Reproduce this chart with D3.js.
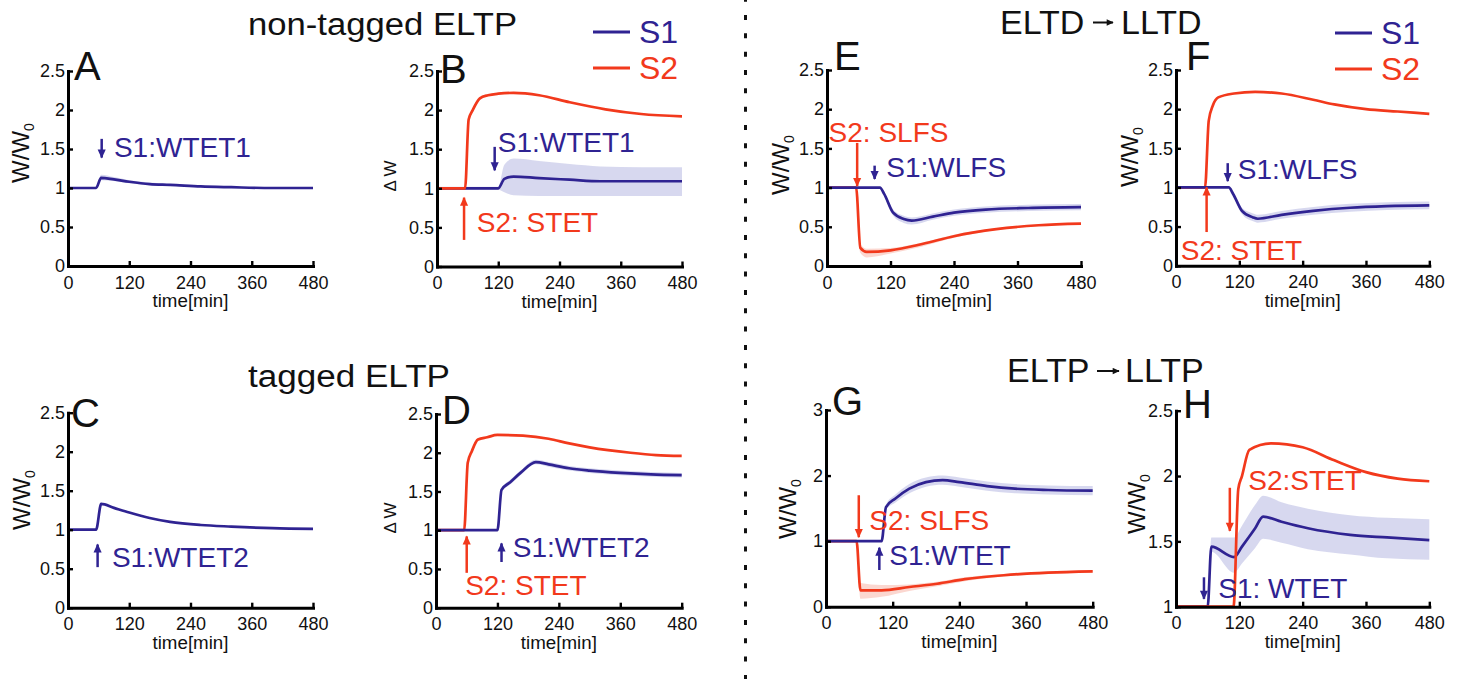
<!DOCTYPE html>
<html>
<head>
<meta charset="utf-8">
<script src="https://cdn.jsdelivr.net/npm/d3@7"></script>
<style>
body { margin: 0; background: #fff; }
svg text { font-family: "Liberation Sans", Arial, Helvetica, sans-serif; }
</style>
</head>
<body>
<div id="chart"></div>
<script>
// tick labels
const xTicks = [0, 120, 240, 360, 480];
const yTicks = [0, 0.5, 1, 1.5, 2, 2.5];
const yTicksG = [0, 1, 2, 3];
const yTicksH = [1, 1.5, 2, 2.5];

// A: non-tagged ELTP, S1 only
const tA = [0, 55, 65, 90, 120, 160, 200, 260, 320, 400, 480];
const vA_s1 = [1, 1, 1.13, 1.11, 1.08, 1.05, 1.04, 1.02, 1.01, 1.0, 1.0];
const loA_s1 = [1, 1, 1.1, 1.09, 1.06, 1.04, 1.03, 1.01, 1.0, 0.99, 0.99];
const hiA_s1 = [1, 1, 1.17, 1.14, 1.1, 1.07, 1.05, 1.03, 1.02, 1.01, 1.01];

// B: non-tagged ELTP, S1 + S2
const tB_s1 = [0, 120, 132, 150, 200, 260, 320, 400, 480];
const vB_s1 = [1, 1, 1.12, 1.15, 1.13, 1.11, 1.09, 1.09, 1.09];
const loB_s1 = [0.98, 0.98, 0.95, 0.91, 0.9, 0.9, 0.9, 0.9, 0.9];
const hiB_s1 = [1.02, 1.02, 1.3, 1.38, 1.35, 1.31, 1.28, 1.27, 1.27];
const tB_s2 = [0, 55, 62, 70, 84, 100, 120, 150, 200, 260, 330, 400, 480];
const vB_s2 = [1, 1, 1.88, 2.0, 2.15, 2.19, 2.21, 2.22, 2.19, 2.1, 2.01, 1.95, 1.92];

// C: tagged ELTP, S1 only
const tC = [0, 55, 65, 90, 120, 160, 200, 260, 320, 400, 480];
const vC_s1 = [1, 1, 1.33, 1.28, 1.22, 1.15, 1.1, 1.06, 1.04, 1.02, 1.01];

// D: tagged ELTP, S1 + S2
const tD_s1 = [0, 120, 128, 145, 165, 195, 220, 260, 300, 360, 420, 480];
const vD_s1 = [1, 1, 1.52, 1.62, 1.74, 1.88, 1.85, 1.8, 1.77, 1.74, 1.72, 1.71];
const loD_s1 = [1, 1, 1.5, 1.59, 1.71, 1.85, 1.82, 1.77, 1.74, 1.71, 1.69, 1.68];
const hiD_s1 = [1, 1, 1.54, 1.65, 1.77, 1.91, 1.88, 1.83, 1.8, 1.77, 1.75, 1.74];
const tD_s2 = [0, 55, 62, 70, 82, 100, 120, 170, 220, 260, 300, 380, 430, 480];
const vD_s2 = [1, 1, 1.87, 2.02, 2.17, 2.2, 2.23, 2.22, 2.18, 2.12, 2.07, 2.0, 1.97, 1.96];

// E: ELTD -> LLTD
const tE_s1 = [0, 100, 108, 125, 145, 160, 200, 240, 300, 380, 480];
const vE_s1 = [1, 1, 0.92, 0.68, 0.6, 0.58, 0.63, 0.68, 0.72, 0.74, 0.75];
const loE_s1 = [1, 1, 0.9, 0.64, 0.55, 0.53, 0.59, 0.64, 0.68, 0.7, 0.71];
const hiE_s1 = [1, 1, 0.94, 0.72, 0.64, 0.62, 0.67, 0.72, 0.76, 0.78, 0.79];
const tE_s2 = [0, 55, 63, 75, 120, 180, 240, 320, 400, 480];
const vE_s2 = [1, 1, 0.23, 0.18, 0.2, 0.28, 0.38, 0.47, 0.52, 0.54];
const loE_s2 = [1, 1, 0.17, 0.11, 0.16, 0.25, 0.36, 0.46, 0.51, 0.53];
const hiE_s2 = [1, 1, 0.28, 0.22, 0.23, 0.3, 0.4, 0.48, 0.53, 0.55];

// F: ELTD -> LLTD with STET on S2
const tF_s1 = [0, 100, 108, 125, 145, 155, 200, 260, 330, 400, 480];
const vF_s1 = [1, 1, 0.92, 0.7, 0.62, 0.6, 0.65, 0.7, 0.74, 0.76, 0.77];
const loF_s1 = [1, 1, 0.9, 0.66, 0.57, 0.55, 0.6, 0.65, 0.69, 0.71, 0.72];
const hiF_s1 = [1, 1, 0.94, 0.74, 0.67, 0.65, 0.7, 0.75, 0.79, 0.81, 0.82];
const tF_s2 = [0, 55, 62, 70, 80, 110, 150, 200, 260, 300, 360, 420, 480];
const vF_s2 = [1, 1, 1.85, 2.05, 2.15, 2.2, 2.22, 2.2, 2.12, 2.06, 2.0, 1.97, 1.94];

// G: ELTP -> LLTP with SLFS on S2
const tG_s1 = [0, 100, 108, 125, 150, 180, 210, 240, 290, 340, 400, 480];
const vG_s1 = [1, 1, 1.52, 1.65, 1.8, 1.9, 1.93, 1.9, 1.84, 1.8, 1.78, 1.77];
const loG_s1 = [1, 1, 1.48, 1.59, 1.73, 1.83, 1.86, 1.83, 1.77, 1.73, 1.71, 1.7];
const hiG_s1 = [1, 1, 1.56, 1.71, 1.87, 1.97, 2.0, 1.97, 1.91, 1.87, 1.85, 1.84];
const tG_s2 = [0, 55, 62, 100, 150, 200, 250, 320, 400, 480];
const vG_s2 = [1, 1, 0.25, 0.25, 0.3, 0.35, 0.42, 0.48, 0.52, 0.54];
const loG_s2 = [1, 1, 0.12, 0.15, 0.24, 0.31, 0.39, 0.46, 0.5, 0.52];
const hiG_s2 = [1, 1, 0.36, 0.33, 0.34, 0.38, 0.45, 0.5, 0.54, 0.56];

// H: ELTP -> LLTP with STET on S2
const tH_s1 = [0, 60, 67, 110, 125, 150, 165, 200, 250, 330, 400, 480];
const vH_s1 = [1, 1, 1.46, 1.38, 1.46, 1.6, 1.69, 1.65, 1.6, 1.55, 1.53, 1.51];
const loH_s1 = [1, 1, 1.42, 1.26, 1.33, 1.45, 1.52, 1.49, 1.44, 1.4, 1.37, 1.36];
const hiH_s1 = [1, 1, 1.53, 1.53, 1.62, 1.78, 1.85, 1.8, 1.75, 1.7, 1.68, 1.67];
const tH_s2 = [0, 109, 118, 125, 139, 180, 240, 300, 360, 420, 480];
const vH_s2 = [1, 1, 1.9, 2.0, 2.2, 2.25, 2.22, 2.12, 2.03, 1.98, 1.96];

const BLUE = '#2f2392';
const RED = '#f2391c';
const BAND_BLUE = '#c9cbea';
const BAND_RED = '#f9c9c0';

const width = 1460;
const height = 679;

const svg = d3.select('#chart')
    .append('svg')
    .attr('width', width)
    .attr('height', height);

// arrow heads
const defs = svg.append('defs');
[['blue', BLUE, 10, 9], ['red', RED, 10, 9], ['black', '#111', 8, 7]].forEach(([name, col, w, h]) => {
    defs.append('marker')
        .attr('id', 'head-' + name)
        .attr('viewBox', '0 -5 10 10')
        .attr('refX', 9)
        .attr('refY', 0)
        .attr('markerUnits', 'userSpaceOnUse')
        .attr('markerWidth', w)
        .attr('markerHeight', h)
        .attr('orient', 'auto')
        .append('path')
        .attr('d', 'M0,-4.5L10,0L0,4.5Z')
        .attr('fill', col);
});

const s1 = (t, v, lo, hi) => ({ t, v, lo, hi, color: BLUE, band: BAND_BLUE });
const s2 = (t, v, lo, hi) => ({ t, v, lo, hi, color: RED, band: BAND_RED });

// panel layout: pixel box, label spots, annotations in data units
const panels = [
    { letter: 'A', x: [68, 313], y: [266, 71], domain: [0, 2.5], ticks: yTicks, ylab: 'W', labX: 29, labY: 153, pos: [74, 80],
      series: [s1(tA, vA_s1, loA_s1, hiA_s1)],
      notes: [{ text: 'S1:WTET1', c: BLUE, head: 'blue', at: [90, 1.40], arrow: [66, 1.63, 66, 1.39] }] },
    { letter: 'B', x: [437, 682], y: [266.5, 71], domain: [0, 2.5], ticks: yTicks, ylab: 'D', labX: 396, labY: 176, pos: [440, 83],
      series: [s1(tB_s1, vB_s1, loB_s1, hiB_s1), s2(tB_s2, vB_s2)],
      notes: [{ text: 'S1:WTET1', c: BLUE, head: 'blue', at: [119, 1.47], arrow: [113, 1.53, 113, 1.23] },
              { text: 'S2: STET', c: RED, head: 'red', at: [78, 0.44], arrow: [53, 0.34, 53, 0.88] }] },
    { letter: 'C', x: [68, 313], y: [607.7, 412.7], domain: [0, 2.5], ticks: yTicks, ylab: 'W', labX: 30, labY: 500, pos: [71, 427],
      series: [s1(tC, vC_s1)],
      notes: [{ text: 'S1:WTET2', c: BLUE, head: 'blue', at: [86, 0.52], arrow: [58, 0.52, 58, 0.81] }] },
    { letter: 'D', x: [436, 681.7], y: [607.7, 414], domain: [0, 2.5], ticks: yTicks, ylab: 'D', labX: 396, labY: 518, pos: [442, 424],
      series: [s2(tD_s2, vD_s2), s1(tD_s1, vD_s1, loD_s1, hiD_s1)],
      notes: [{ text: 'S1:WTET2', c: BLUE, head: 'blue', at: [150, 0.66], arrow: [128, 0.59, 128, 0.83] },
              { text: 'S2: STET', c: RED, head: 'red', at: [57, 0.16], arrow: [60, 0.45, 60, 0.92] }] },
    { letter: 'E', x: [827, 1081], y: [266, 70], domain: [0, 2.5], ticks: yTicks, ylab: 'W', labX: 789, labY: 165, pos: [834, 70],
      series: [s2(tE_s2, vE_s2, loE_s2, hiE_s2), s1(tE_s1, vE_s1, loE_s1, hiE_s1)],
      notes: [{ text: 'S2: SLFS', c: RED, head: 'red', at: [3, 1.585], arrow: [57, 1.57, 57, 1.02] },
              { text: 'S1:WLFS', c: BLUE, head: 'blue', at: [112, 1.14], arrow: [90, 1.28, 90, 1.11] }] },
    { letter: 'F', x: [1176, 1429.3], y: [265.7, 70], domain: [0, 2.5], ticks: yTicks, ylab: 'W', labX: 1138, labY: 157, pos: [1186, 70],
      series: [s2(tF_s2, vF_s2), s1(tF_s1, vF_s1, loF_s1, hiF_s1)],
      notes: [{ text: 'S1:WLFS', c: BLUE, head: 'blue', at: [117, 1.11], arrow: [98, 1.31, 98, 1.08] },
              { text: 'S2: STET', c: RED, head: 'red', at: [9, 0.07], arrow: [58, 0.43, 58, 1.0] }] },
    { letter: 'G', x: [826, 1092.7], y: [606.7, 410], domain: [0, 3], ticks: yTicksG, ylab: 'W', labX: 796, labY: 509, pos: [832, 415],
      series: [s2(tG_s2, vG_s2, loG_s2, hiG_s2), s1(tG_s1, vG_s1, loG_s1, hiG_s1)],
      notes: [{ text: 'S2: SLFS', c: RED, head: 'red', at: [78, 1.17], arrow: [59, 1.7, 59, 1.06] },
              { text: 'S1:WTET', c: BLUE, head: 'blue', at: [114, 0.64], arrow: [96, 0.56, 96, 0.9] }] },
    { letter: 'H', x: [1176, 1429.3], y: [606.7, 410.7], domain: [1, 2.5], ticks: yTicksH, ylab: 'W', labX: 1145, labY: 504, pos: [1183, 418],
      series: [s1(tH_s1, vH_s1, loH_s1, hiH_s1), s2(tH_s2, vH_s2)],
      notes: [{ text: 'S2:STET', c: RED, head: 'red', at: [137, 1.89], arrow: [102, 1.91, 102, 1.58] },
              { text: 'S1: WTET', c: BLUE, head: 'blue', at: [80, 1.064], arrow: [53, 1.225, 53, 1.06] }] }
];

panels.forEach(p => {
    const x_scale = d3.scaleLinear().domain([0, 480]).range(p.x);
    const y_scale = d3.scaleLinear().domain(p.domain).range(p.y);
    const g = svg.append('g');

    // bands first
    p.series.filter(s => s.lo).forEach(s => {
        const area = d3.area()
            .x((d, i) => x_scale(s.t[i]))
            .y0((d, i) => y_scale(s.lo[i]))
            .y1((d, i) => y_scale(s.hi[i]))
            .curve(d3.curveMonotoneX);
        g.append('path')
            .attr('d', area(s.t))
            .attr('fill', s.band)
            .attr('opacity', 0.75);
    });

    // lines
    p.series.forEach(s => {
        const line = d3.line()
            .x((d, i) => x_scale(s.t[i]))
            .y((d, i) => y_scale(s.v[i]))
            .curve(d3.curveMonotoneX);
        g.append('path')
            .attr('d', line(s.t))
            .attr('fill', 'none')
            .attr('stroke', s.color)
            .attr('stroke-width', 2.7)
            .attr('stroke-linejoin', 'round');
    });

    // axes (matlab style, ticks inside)
    const xAxis = g.append('g')
        .attr('transform', `translate(0,${p.y[0]})`)
        .call(d3.axisBottom(x_scale).tickValues(xTicks).tickSizeInner(-5).tickSizeOuter(0).tickPadding(10));
    const yAxis = g.append('g')
        .attr('transform', `translate(${p.x[0]},0)`)
        .call(d3.axisLeft(y_scale).tickValues(p.ticks).tickFormat(d => String(d)).tickSizeInner(-5).tickSizeOuter(0).tickPadding(3));
    [xAxis, yAxis].forEach(a => {
        a.select('.domain').style('stroke', '#000').style('stroke-width', '3px').style('stroke-linecap', 'square');
        a.selectAll('.tick line').style('stroke', '#000').style('stroke-width', '2.4px');
        a.selectAll('.tick text')
            .attr('fill', '#111')
            .attr('font-size', 18)
            .attr('font-family', '"Liberation Sans", Arial, sans-serif');
    });

    g.append('text')
        .attr('x', (p.x[0] + p.x[1]) / 2)
        .attr('y', p.y[0] + 41)
        .attr('text-anchor', 'middle')
        .attr('font-size', 18)
        .attr('textLength', 76)
        .attr('lengthAdjust', 'spacingAndGlyphs')
        .attr('fill', '#111')
        .text('time[min]');

    // y label
    const yl = g.append('text')
        .attr('transform', `translate(${p.labX},${p.labY}) rotate(-90)`)
        .attr('text-anchor', 'middle')
        .attr('fill', '#111');
    if (p.ylab === 'W') {
        yl.attr('font-size', 24).text('W/W');
        yl.append('tspan').attr('font-size', 14).attr('dy', 5).text('0');
    } else {
        yl.attr('font-size', 17).text('\u0394 W');
    }

    // panel letter
    g.append('text')
        .attr('x', p.pos[0])
        .attr('y', p.pos[1])
        .attr('font-size', 40)
        .attr('fill', '#111')
        .text(p.letter);

    // annotations
    p.notes.forEach(n => {
        g.append('line')
            .attr('x1', x_scale(n.arrow[0]))
            .attr('y1', y_scale(n.arrow[1]))
            .attr('x2', x_scale(n.arrow[2]))
            .attr('y2', y_scale(n.arrow[3]))
            .attr('stroke', n.c)
            .attr('stroke-width', 2.5)
            .attr('marker-end', `url(#head-${n.head})`);
        g.append('text')
            .attr('x', x_scale(n.at[0]))
            .attr('y', y_scale(n.at[1]))
            .attr('font-size', 28)
            .attr('fill', n.c)
            .text(n.text);
    });
});

// titles
svg.append('text').attr('x', 248).attr('y', 35).attr('font-size', 31)
    .attr('textLength', 269).attr('lengthAdjust', 'spacingAndGlyphs')
    .attr('fill', '#111').text('non-tagged ELTP');
svg.append('text').attr('x', 248).attr('y', 387).attr('font-size', 31)
    .attr('textLength', 202).attr('lengthAdjust', 'spacingAndGlyphs')
    .attr('fill', '#111').text('tagged ELTP');

const titlePairs = [
    { a: 'ELTD', b: 'LLTD', x: 1000, y: 33.5, ax: [1093, 1113], bx: 1121 },
    { a: 'ELTP', b: 'LLTP', x: 1007, y: 382, ax: [1097, 1119], bx: 1125 }
];
titlePairs.forEach(tp => {
    svg.append('text').attr('x', tp.x).attr('y', tp.y).attr('font-size', 34).attr('fill', '#111').text(tp.a);
    svg.append('line')
        .attr('x1', tp.ax[0]).attr('x2', tp.ax[1])
        .attr('y1', tp.y - 11).attr('y2', tp.y - 11)
        .attr('stroke', '#111').attr('stroke-width', 2)
        .attr('marker-end', 'url(#head-black)');
    svg.append('text').attr('x', tp.bx).attr('y', tp.y).attr('font-size', 34).attr('fill', '#111').text(tp.b);
});

// legends
const legends = [{ x: 593, y: 32 }, { x: 1335, y: 33 }];
const legendItems = [['S1', BLUE], ['S2', RED]];
legends.forEach(l => {
    legendItems.forEach(([name, col], i) => {
        const yy = l.y + i * 36;
        svg.append('line')
            .attr('x1', l.x).attr('x2', l.x + 37)
            .attr('y1', yy).attr('y2', yy)
            .attr('stroke', col).attr('stroke-width', 3);
        svg.append('text')
            .attr('x', l.x + 46).attr('y', yy + 11)
            .attr('font-size', 32)
            .attr('fill', col)
            .text(name);
    });
});

// dotted divider
svg.append('line')
    .attr('x1', 745.5).attr('x2', 745.5)
    .attr('y1', 0).attr('y2', height)
    .attr('stroke', '#111')
    .attr('stroke-width', 3)
    .attr('stroke-dasharray', '5,13.33')
    .attr('stroke-dashoffset', 3.33);
</script>
</body>
</html>
